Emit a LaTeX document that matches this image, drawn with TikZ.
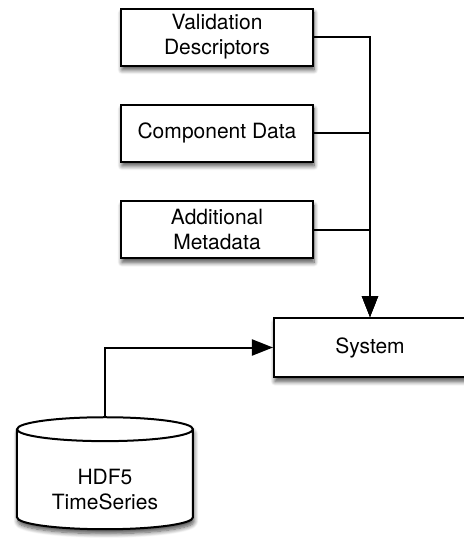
\documentclass[tikz,border=0pt]{standalone}
\usepackage{fontspec}
\setmainfont{TeX Gyre Heros}
\usepackage{tikz}
\usetikzlibrary{arrows.meta,positioning,shapes.geometric,shadows.blur}
\tikzset{
  shd/.style={blur shadow={shadow xshift=0.5pt,shadow yshift=-2.2pt,shadow blur radius=2.2pt,
              shadow blur steps=8,shadow opacity=70}},
  blk/.style={draw=black,line width=1pt,fill=white,minimum width=96pt,minimum height=28.5pt,
              align=center,font=\fontsize{10.5}{12.6}\selectfont,inner sep=2pt,shd},
  store/.style={cylinder,shape border rotate=90,aspect=0.2,draw=black,line width=1pt,fill=white,
              minimum width=88pt,minimum height=56pt,font=\fontsize{10.5}{12.6}\selectfont,shd},
  arr/.style={-{Triangle[length=10.5pt,width=8pt]},line width=1pt,black},
}
\begin{document}
\begin{tikzpicture}[x=0.5pt,y=0.5pt]
\useasboundingbox (0,0) rectangle (463,543);
% inputs stacked on the left
\foreach \name/\y/\txt in {valid/506/{Validation\\Descriptors},
  comp/410/{Component Data},
  meta/313.5/{Additional\\Metadata}}{
  \node[blk] (\name) at (217,\y) {\txt};}
\node[blk,minimum height=29.5pt] (sys) at (370,195.5) {System};
\node[store] (hdf) at (105,61)
  {\raisebox{-5pt}[\height][\depth]{\begin{tabular}{@{}c@{}}HDF5\\TimeSeries\end{tabular}}};
% everything feeds the system
\foreach \name in {valid,comp,meta}
  \draw[arr] (\name.east) -| (sys.north);
\draw[arr] (hdf.north) |- (sys.west);
\end{tikzpicture}
\end{document}
